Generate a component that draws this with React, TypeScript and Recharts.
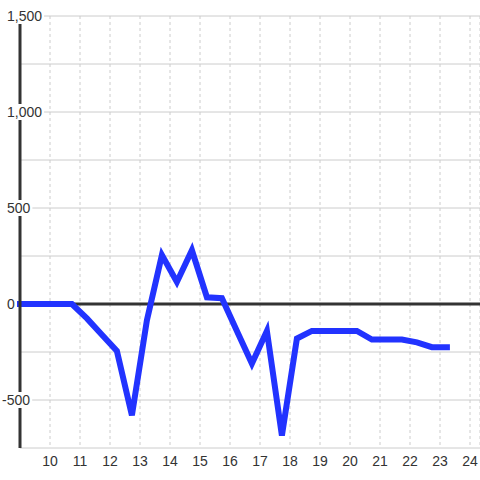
import React from 'react';
import { LineChart, Line, XAxis, YAxis, CartesianGrid, ReferenceLine } from 'recharts';

const hours = [9, 9.73, 10.23, 10.73, 11.23, 11.73, 12.23, 12.73, 13.23, 13.73, 14.23, 14.73, 15.23, 15.73, 16.23, 16.73, 17.23, 17.73, 18.23, 18.73, 19.23, 19.73, 20.23, 20.73, 21.23, 21.73, 22.23, 22.73, 23.23];
const values = [0, 0, 0, 0, -75, -160, -245, -580, -85, 255, 115, 280, 35, 30, -140, -310, -140, -685, -180, -140, -140, -140, -140, -185, -185, -185, -200, -225, -225];

const xTicks = [10, 11, 12, 13, 14, 15, 16, 17, 18, 19, 20, 21, 22, 23, 24];
const yTicks = [-750, -500, -250, 0, 250, 500, 750, 1000, 1250, 1500];

const data = hours.map((h, i) => ({ h, v: values[i] }));

const FONT = '"Liberation Sans", Arial, sans-serif';

const YTick = ({ y, payload }: any) => {
  const v = payload.value;
  if (v % 500 !== 0 || v < -500) return null;
  const label = v.toLocaleString('en-US');
  const neg = v < 0;
  const tx = neg ? 2 : 7;
  const w = label.length * 7.8 - (label.includes(',') ? 3.9 : 0) - (neg ? 3 : 0);
  return (
    <g>
      <rect x={tx - 2} y={y - 8} width={w + 4} height={16} fill="#ffffff" />
      <text x={tx} y={y} dy="0.35em" textAnchor="start" fill="#333" fontSize={14} fontFamily={FONT}>
        {label}
      </text>
    </g>
  );
};

export default function App() {
  return (
    <div style={{ position: 'fixed', left: 0, top: 0, width: 480, height: 480, background: '#fff' }}>
      <LineChart width={480} height={480} data={data} margin={{ top: 16, right: 0, bottom: 0, left: 0 }}>
        <CartesianGrid stroke="#cccccc" horizontal={false} strokeDasharray="3 3" />
        <CartesianGrid stroke="#cccccc" vertical={false} />
        <XAxis
          dataKey="h"
          type="number"
          domain={[9, 9 + 460 / 30]}
          ticks={xTicks}
          axisLine={false}
          tickLine={false}
          height={32}
          tick={{ fill: '#333', fontSize: 14, fontFamily: FONT }}
          interval={0}
        />
        <YAxis
          type="number"
          domain={[-750, 1500]}
          ticks={yTicks}
          width={20}
          tickLine={false}
          axisLine={{ stroke: '#333', strokeWidth: 3 }}
          tick={<YTick />}
          interval={0}
        />
        <ReferenceLine y={0} stroke="#333" strokeWidth={3} />
        <Line
          dataKey="v"
          type="linear"
          stroke="#2233ff"
          strokeWidth={6}
          dot={false}
          strokeLinecap="square"
          strokeLinejoin="miter"
          isAnimationActive={false}
        />
      </LineChart>
    </div>
  );
}
